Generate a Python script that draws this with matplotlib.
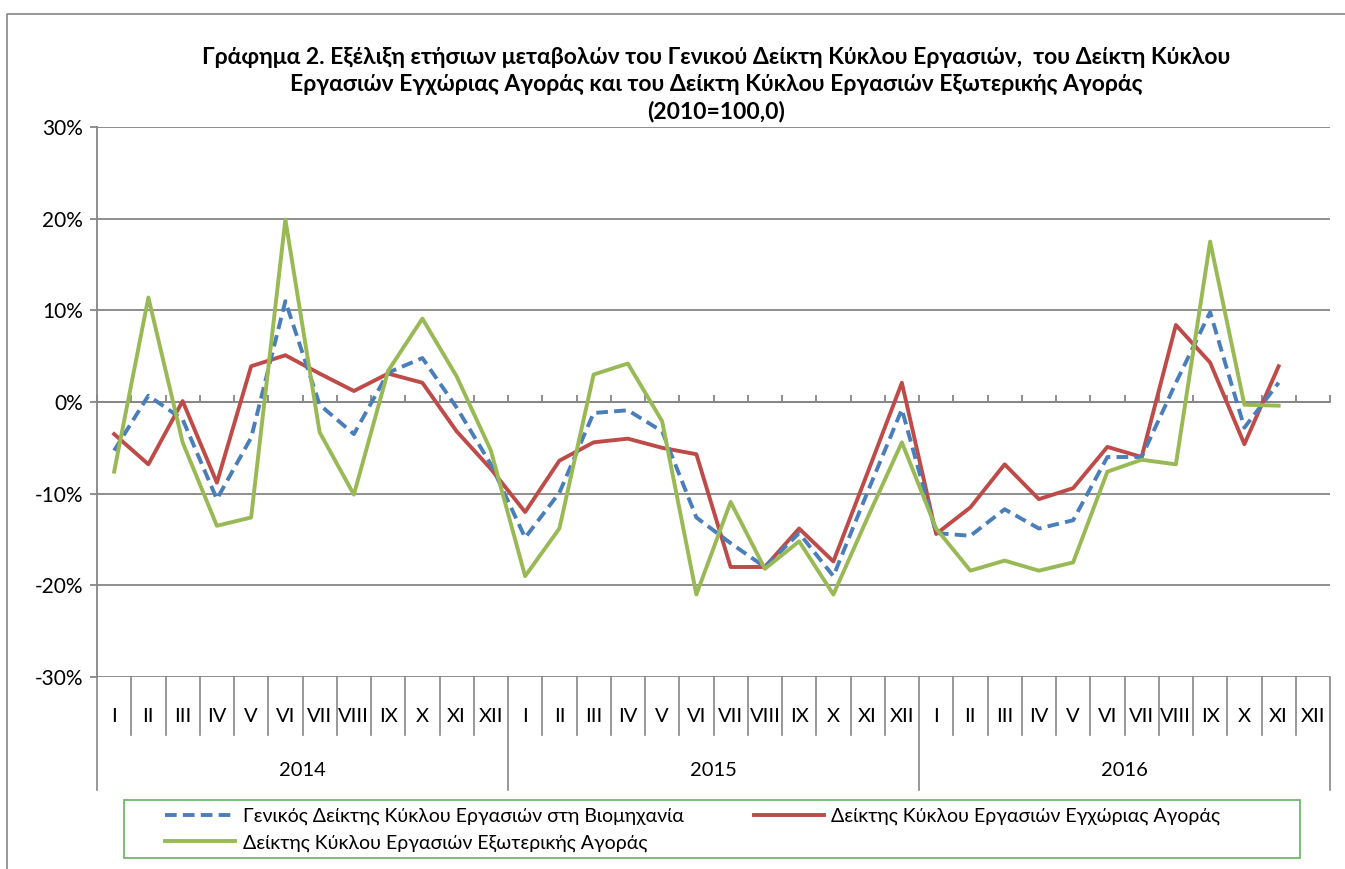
import matplotlib.pyplot as plt
import matplotlib.transforms as mtransforms
from matplotlib.lines import Line2D
from matplotlib.ticker import PercentFormatter, FixedLocator, NullLocator
from matplotlib.patches import Rectangle
import numpy as np

plt.rcParams['font.family'] = ['Lato', 'DejaVu Sans']
plt.rcParams['axes.unicode_minus'] = False

years = ['2014', '2015', '2016']
months = ['I', 'II', 'III', 'IV', 'V', 'VI', 'VII', 'VIII', 'IX', 'X', 'XI', 'XII']

# ετήσιες μεταβολές (%)
general = [-5.3, 0.7, -1.9, -10.6, -3.9, 11.0, -0.3, -3.5, 3.2, 4.8, -0.6, -6.8,
           -14.8, -9.9, -1.2, -0.9, -3.2, -12.6, -15.4, -18.0, -14.3, -19.0, -9.8, -0.8,
           -14.3, -14.6, -11.7, -13.8, -12.9, -6.0, -6.0, 2.1, 9.8, -2.8, 2.1]
domestic = [-3.5, -6.8, 0.1, -8.8, 3.9, 5.1, 3.1, 1.2, 3.1, 2.1, -3.2, -7.3,
            -12.0, -6.4, -4.4, -4.0, -5.0, -5.7, -18.0, -18.0, -13.8, -17.4, -7.7, 2.1,
            -14.4, -11.5, -6.8, -10.6, -9.4, -4.9, -6.0, 8.4, 4.3, -4.6, 3.9]
external = [-7.6, 11.4, -4.4, -13.5, -12.6, 19.9, -3.3, -10.1, 3.4, 9.1, 2.8, -5.3,
            -19.0, -13.8, 3.0, 4.2, -2.1, -21.0, -10.9, -18.2, -15.2, -21.0, -12.6, -4.4,
            -13.8, -18.4, -17.3, -18.4, -17.5, -7.6, -6.3, -6.8, 17.5, -0.3, -0.4]

labels = ['Γενικός Δείκτης Κύκλου Εργασιών στη Βιομηχανία',
          'Δείκτης Κύκλου Εργασιών Εγχώριας Αγοράς',
          'Δείκτης Κύκλου Εργασιών Εξωτερικής Αγοράς']

W, H = 1345, 869
fig = plt.figure(figsize=(W / 100, H / 100), dpi=100)
grey = '#868686'

# περίγραμμα γραφήματος (αριστερά και πάνω)
fig.add_artist(Line2D([7 / W, 7 / W, 1.0], [0.0, 1 - 14 / H, 1 - 14 / H],
                      transform=fig.transFigure, color=grey, lw=1.2))

ax = fig.add_axes([97 / W, 1 - 677 / H, (1330 - 97) / W, (677 - 127) / H])

n = len(years) * len(months)
x = np.arange(len(general))
y_gen = np.array(general) / 100
y_dom = np.array(domestic) / 100
y_ext = np.array(external) / 100

ax.plot(x, y_gen, color='#4A7EBB', lw=2.8, ls=(0, (3, 1.6)), label=labels[0], zorder=4)
ax.plot(x, y_dom, color='#BE4B48', lw=2.8, label=labels[1], zorder=3)
ax.plot(x, y_ext, color='#98B954', lw=2.8, label=labels[2], zorder=5)

ax.set_xlim(-0.5, n - 0.5)
ax.set_ylim(-0.30, 0.30)
ax.yaxis.set_major_locator(FixedLocator(np.arange(-0.3, 0.31, 0.1)))
ax.yaxis.set_major_formatter(PercentFormatter(1.0, decimals=0))
ax.grid(axis='y', color=grey, lw=1.3)
ax.set_axisbelow(True)

for s in ['top', 'right']:
    ax.spines[s].set_visible(False)
ax.spines['left'].set_color(grey)
ax.spines['left'].set_linewidth(1.3)
ax.spines['bottom'].set_position(('data', 0))
ax.spines['bottom'].set_color(grey)
ax.spines['bottom'].set_linewidth(1.3)

ax.xaxis.set_major_locator(NullLocator())
ax.xaxis.set_minor_locator(FixedLocator(np.arange(-0.5, n, 1.0)))
ax.tick_params(axis='x', which='minor', direction='in', length=5, color=grey, width=1.3)
ax.tick_params(axis='y', direction='out', length=5, color=grey, width=1.3,
               labelsize=15, pad=5)

# κατηγορίες: μήνες και έτη κάτω από το γράφημα
trans = mtransforms.blended_transform_factory(ax.transData, ax.transAxes)
row1 = -58 / 550
row2 = -113 / 550
for i in range(n):
    ax.text(i, -40 / 550, months[i % 12], transform=trans, ha='center', va='center',
            fontsize=14.5)
for b in range(n + 1):
    low = row2 if b % 12 == 0 else row1
    ax.plot([b - 0.5, b - 0.5], [0, low], transform=trans, color=grey, lw=1.2,
            clip_on=False)
for k, yr in enumerate(years):
    ax.text(12 * k + 5.5, -94 / 550, yr, transform=trans, ha='center', va='center',
            fontsize=14.5)

# τίτλος
title = ['Γράφημα 2. Εξέλιξη ετήσιων μεταβολών του Γενικού Δείκτη Κύκλου Εργασιών,  του Δείκτη Κύκλου',
         'Εργασιών Εγχώριας Αγοράς και του Δείκτη Κύκλου Εργασιών Εξωτερικής Αγοράς',
         '(2010=100,0)']
for j, line in enumerate(title):
    fig.text(716 / W, 1 - (57 + 27.5 * j) / H, line, ha='center', va='center',
             fontsize=16.5, fontweight='bold')

# υπόμνημα
fig.patches.append(Rectangle((124 / W, 1 - 858 / H), (1300 - 124) / W, 58 / H,
                             transform=fig.transFigure, fill=False,
                             edgecolor='#70B870', lw=1.3))
h, l = ax.get_legend_handles_labels()
order = [0, 2, 1]
leg = fig.legend([h[i] for i in order], [l[i] for i in order], ncol=2,
                 loc='upper left', bbox_to_anchor=(165 / W, 1 - 808 / H),
                 borderaxespad=0, borderpad=0, frameon=False,
                 fontsize=14, handlelength=3.6, handletextpad=0.4,
                 labelspacing=0.45, columnspacing=3.6)

fig.savefig('out.png', dpi=100)
